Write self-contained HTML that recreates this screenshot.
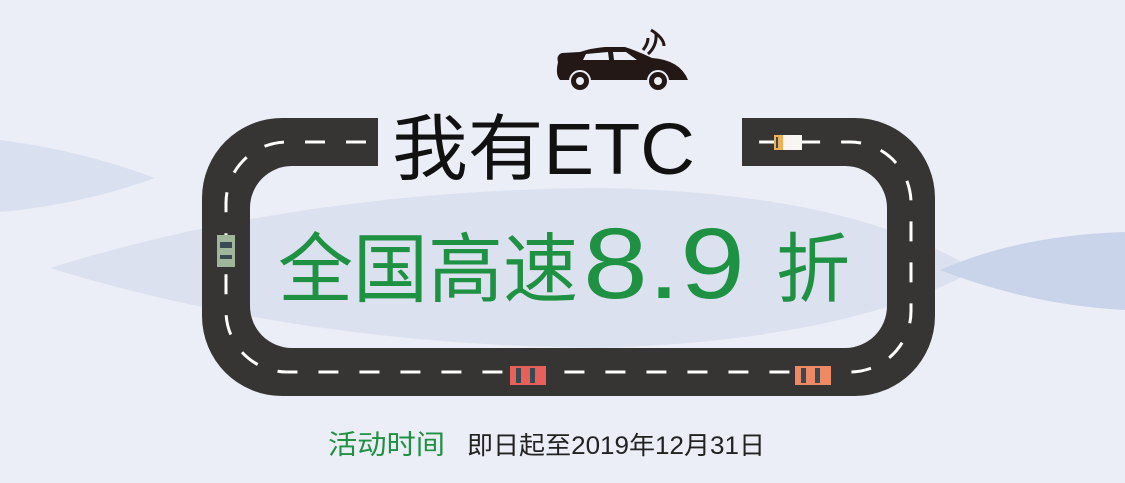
<!DOCTYPE html>
<html><head><meta charset="utf-8"><style>
html,body{margin:0;padding:0;background:#ebeef7;width:1125px;height:483px;overflow:hidden}
svg{display:block}
text{font-family:"Liberation Sans","Noto Sans CJK SC",sans-serif}
</style></head><body>
<svg width="1125" height="483" viewBox="0 0 1125 483">
<rect width="1125" height="483" fill="#ebeef7"/>
<path d="M0 140 Q80 150 155 178 Q80 205 0 212 Z" fill="#d9e0ef"/>
<path d="M50 268 Q300 190 600 188 Q850 192 975 270 Q850 340 600 348 Q300 345 50 268 Z" fill="#dbe1ef"/>
<path d="M940 270 Q1020 235 1125 232 L1125 310 Q1030 305 940 270 Z" fill="#c9d4ea"/>
<g>
<path d="M378 118 H282 A80 80 0 0 0 202 198 V316 A80 80 0 0 0 282 396 H855 A80 80 0 0 0 935 316 V198 A80 80 0 0 0 855 118 H742 V166 H845 A42 42 0 0 1 887 208 V306 A42 42 0 0 1 845 348 H292 A42 42 0 0 1 250 306 V208 A42 42 0 0 1 292 166 H378 Z" fill="#373533"/>
<path d="M366 142 H287 A61 61 0 0 0 226 203 V311 A61 61 0 0 0 287 372 H850 A61 61 0 0 0 911 311 V203 A61 61 0 0 0 850 142 H756" fill="none" stroke="#fff" stroke-width="3" stroke-dasharray="20 21"/>
</g>
<g><rect x="217" y="235" width="18" height="32" fill="#9fb69a"/><rect x="220" y="242" width="12" height="6" fill="#3a4a55"/><rect x="220" y="255" width="12" height="4" fill="#3a4a55"/></g>
<g><rect x="510" y="366" width="36" height="19" fill="#e8605a"/><rect x="516" y="368" width="5" height="15" fill="#3a4a55"/><rect x="530" y="368" width="5" height="15" fill="#3a4a55"/></g>
<g><rect x="795" y="366" width="36" height="19" fill="#ee8a63"/><rect x="801" y="368" width="5" height="15" fill="#3a4a55"/><rect x="815" y="368" width="5" height="15" fill="#3a4a55"/></g>
<g><rect x="774" y="135" width="28" height="15" fill="#f7f6f3"/><rect x="774" y="135" width="9" height="15" fill="#f0b056"/><rect x="776" y="137" width="2" height="11" fill="#3a4a55"/></g>
<g fill="#231815">
<path d="M558 62 Q556 55 562 53 L580 52 Q592 48 605 47 L625 47 Q640 52 652 58 Q680 60 688 80 L560 80 Q555 75 558 62 Z"/>
<polygon points="586,54 608,52 609,60 583,60" fill="#ebeef7"/><polygon points="613,52 626,52 637,60 614,60" fill="#ebeef7"/>
<circle cx="580" cy="81" r="10" stroke="#ebeef7" stroke-width="2"/><circle cx="580" cy="81" r="4" fill="#ebeef7"/>
<circle cx="658" cy="81" r="10" stroke="#ebeef7" stroke-width="2"/><circle cx="658" cy="81" r="4" fill="#ebeef7"/>
<path d="M643 50 Q648 44 648 38 M648 54 Q657 46 656 34 M651 30 Q664 38 664 46" fill="none" stroke="#231815" stroke-width="3"/>
</g>
<text x="392" y="174" font-size="72" fill="#111" textLength="303" lengthAdjust="spacingAndGlyphs">我有ETC</text>
<text x="278" y="296" font-size="76" fill="#1e9143" textLength="300" lengthAdjust="spacingAndGlyphs">全国高速</text>
<text x="583" y="298" font-size="100" fill="#1e9143" textLength="162" lengthAdjust="spacingAndGlyphs">8.9</text>
<text x="776" y="296" font-size="76" fill="#1e9143" textLength="74" lengthAdjust="spacingAndGlyphs">折</text>
<text x="328" y="454" font-size="27" fill="#1e9143" textLength="117" lengthAdjust="spacingAndGlyphs">活动时间</text>
<text x="467" y="454" font-size="25" fill="#222" textLength="298" lengthAdjust="spacingAndGlyphs">即日起至2019年12月31日</text>
</svg>
</body></html>
